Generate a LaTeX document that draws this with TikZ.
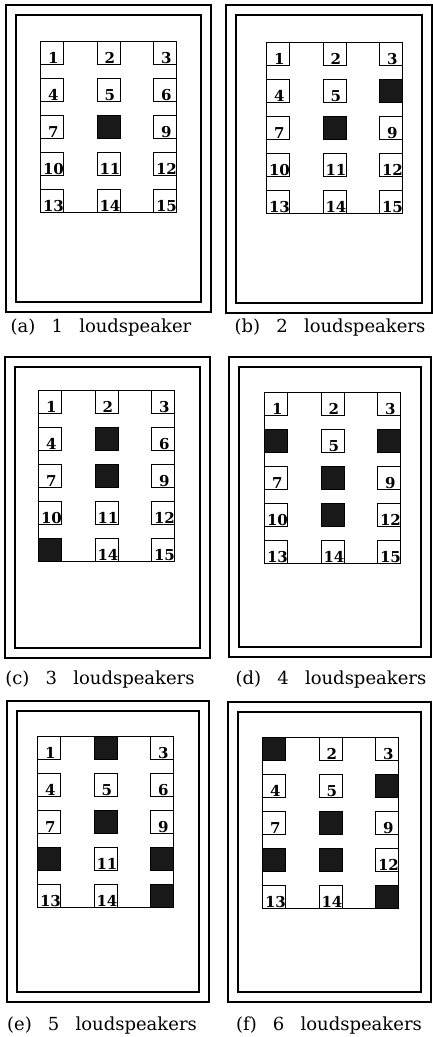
\documentclass[tikz,border=0pt]{standalone}
\usepackage{fontspec}
\setmainfont{DejaVu Serif}
\usetikzlibrary{positioning}

\tikzset{
  outerframe/.style={line width=2.4pt},
  innerframe/.style={line width=1.1pt},
  gridframe/.style={line width=0.9pt},
  spk/.style={draw, fill=white, line width=0.9pt, minimum size=23pt, inner sep=0pt, anchor=north west},
  spkon/.style={spk, fill=black!90},
  spknum/.style={font={\fontsize{15}{15}\selectfont\bfseries}, anchor=south, inner sep=1.2pt, xshift=1.5pt},
  caption/.style={font={\fontsize{18}{20}\selectfont\spaceskip=0.9em\relax}},
}

\begin{document}
\begin{tikzpicture}[x=1pt,y=-1pt]
  \useasboundingbox (0,0) rectangle (433,1037);
  % one panel per layout: frame, grid of 15 places, active loudspeakers
  \foreach \p/\ox/\oy/\ow/\oh/\gx/\gy/\on/\cx/\cy/\cap in {
      a/6/5/205/307/40/41/{8}/101/328/{(a) 1 loudspeaker},
      b/226/5/206/308/266/42/{6,8}/330/328/{(b) 2 loudspeakers},
      c/5/357/205/301/38/390/{5,8,13}/100/680/{(c) 3 loudspeakers},
      d/229/357/202/300/264/392/{4,6,8,11}/331/680/{(d) 4 loudspeakers},
      e/7/701/202/301/37/736/{2,8,10,12,15}/102/1026/{(e) 5 loudspeakers},
      f/228/702/203/300/262/737/{1,6,8,10,11,15}/329/1026/{(f) 6 loudspeakers}}{
    % frames
    \draw[outerframe] (\ox,\oy) rectangle ++(\ow,\oh);
    \draw[innerframe] (\ox+10,\oy+10) rectangle ++(\ow-20,\oh-20);
    % grid
    \draw[gridframe] (\gx,\gy) rectangle ++(136,171);
    \foreach \k in {1,...,15}{
      \pgfmathtruncatemacro\col{mod(\k-1,3)}
      \pgfmathtruncatemacro\row{(\k-1)/3}
      \node[spk, label={[spknum]south:\k}] (\p-\k) at (\gx+56.5*\col,\gy+37*\row) {};
    }
    % active loudspeakers
    \foreach \k in \on{
      \node[spkon] (\p-\k-on) at (\p-\k.north west) {};
    }
    \node[caption] (cap-\p) at (\cx,\cy) {\cap};
  }
\end{tikzpicture}
\end{document}
